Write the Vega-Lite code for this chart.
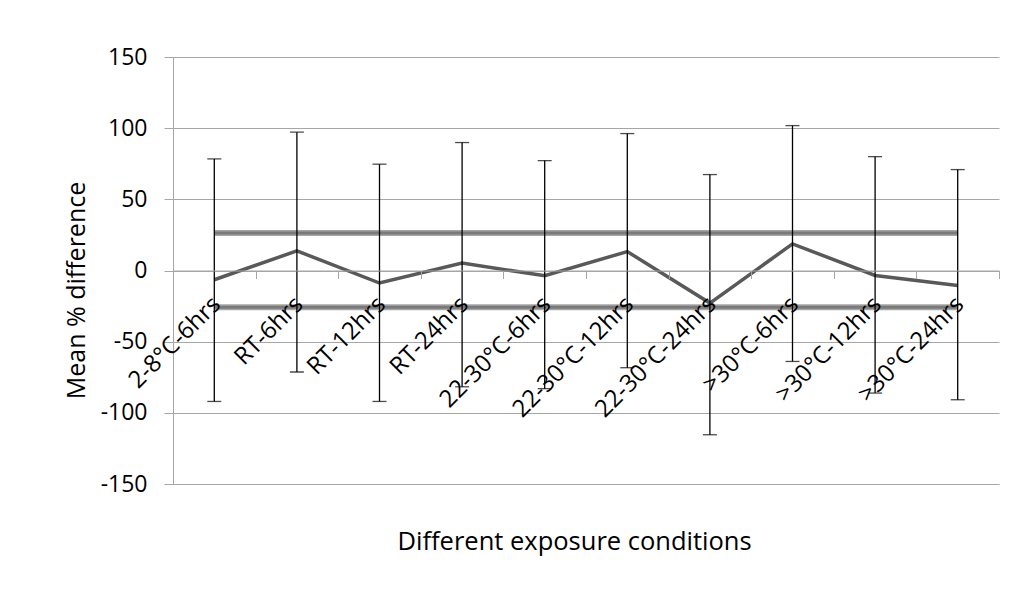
{
  "$schema": "https://vega.github.io/schema/vega-lite/v6.json",
  "width": 826,
  "height": 427,
  "autosize": {"type": "none"},
  "padding": {"left": 173, "top": 57, "right": 14, "bottom": 123},
  "background": "white",
  "config": {"view": {"stroke": null}, "font": "Open Sans"},
  "data": {
    "values": [
      {"condition": "2-8°C-6hrs", "mean": -6.5, "lo": -92.0, "hi": 78.4, "upper": 26.4, "lower": -25.8},
      {"condition": "RT-6hrs", "mean": 13.8, "lo": -71.3, "hi": 97.2, "upper": 26.4, "lower": -25.8},
      {"condition": "RT-12hrs", "mean": -8.8, "lo": -92.0, "hi": 74.7, "upper": 26.4, "lower": -25.8},
      {"condition": "RT-24hrs", "mean": 5.2, "lo": -81.7, "hi": 89.9, "upper": 26.4, "lower": -25.8},
      {"condition": "22-30°C-6hrs", "mean": -3.7, "lo": -83.0, "hi": 77.2, "upper": 26.4, "lower": -25.8},
      {"condition": "22-30°C-12hrs", "mean": 13.3, "lo": -68.3, "hi": 96.2, "upper": 26.4, "lower": -25.8},
      {"condition": "22-30°C-24hrs", "mean": -22.9, "lo": -115.4, "hi": 67.4, "upper": 26.4, "lower": -25.8},
      {"condition": ">30°C-6hrs", "mean": 18.7, "lo": -63.9, "hi": 101.8, "upper": 26.4, "lower": -25.8},
      {"condition": ">30°C-12hrs", "mean": -3.5, "lo": -86.1, "hi": 80.0, "upper": 26.4, "lower": -25.8},
      {"condition": ">30°C-24hrs", "mean": -10.5, "lo": -90.8, "hi": 70.9, "upper": 26.4, "lower": -25.8}
    ]
  },
  "encoding": {
    "x": {
      "field": "condition",
      "type": "nominal",
      "sort": null,
      "scale": {"type": "band", "paddingInner": 0, "paddingOuter": 0},
      "axis": {
        "title": "Different exposure conditions",
        "offset": -213.5,
        "zindex": 1,
        "labelAngle": -45,
        "labelAlign": "right",
        "labelBaseline": "middle",
        "labelOverlap": false,
        "labelBound": false,
        "labelOffset": 2,
        "tickBand": "extent",
        "tickSize": 8,
        "tickColor": "#a6a6a6",
        "domainColor": "#a6a6a6",
        "labelPadding": 22,
        "labelFont": "Open Sans",
        "labelFontSize": 24,
        "labelColor": "#000000",
        "titleFont": "Open Sans",
        "titleFontSize": 25.5,
        "titleFontWeight": "normal",
        "titleColor": "#000000",
        "titleX": 224,
        "titleY": 279,
        "titleAlign": "left",
        "titleBaseline": "alphabetic",
        "grid": false
      }
    }
  },
  "layer": [
    {
      "mark": {"type": "line", "color": "#a6a6a6", "strokeWidth": 6},
      "encoding": {
        "y": {
          "field": "upper",
          "type": "quantitative",
          "title": "Mean % difference",
          "scale": {"domain": [-150, 150], "nice": false},
          "axis": {
            "values": [-150, -100, -50, 0, 50, 100, 150],
            "labelExpr": "toString(datum.value)",
            "title": "Mean % difference",
            "grid": true,
            "gridColor": "#a6a6a6",
            "domainColor": "#a6a6a6",
            "tickColor": "#a6a6a6",
            "tickSize": 9,
            "labelPadding": 17,
            "labelFont": "Open Sans",
            "labelFontSize": 23,
            "labelColor": "#000000",
            "titleFont": "Open Sans",
            "titleFontSize": 25,
            "titleFontWeight": "normal",
            "titleColor": "#000000",
            "titleAngle": -90,
            "titleX": -97,
            "titleY": 233,
            "titleAlign": "center",
            "titleBaseline": "middle"
          }
        }
      }
    },
    {
      "mark": {"type": "line", "color": "#7a7a7a", "strokeWidth": 3},
      "encoding": {"y": {"field": "upper", "type": "quantitative", "title": "Mean % difference"}}
    },
    {
      "mark": {"type": "line", "color": "#a6a6a6", "strokeWidth": 6},
      "encoding": {"y": {"field": "lower", "type": "quantitative", "title": "Mean % difference"}}
    },
    {
      "mark": {"type": "line", "color": "#7a7a7a", "strokeWidth": 3},
      "encoding": {"y": {"field": "lower", "type": "quantitative", "title": "Mean % difference"}}
    },
    {
      "mark": {"type": "line", "color": "#595959", "strokeWidth": 3.5},
      "encoding": {"y": {"field": "mean", "type": "quantitative", "title": "Mean % difference"}}
    },
    {
      "mark": {"type": "rule", "color": "#000000", "strokeWidth": 1.3},
      "encoding": {
        "y": {"field": "lo", "type": "quantitative", "title": "Mean % difference"},
        "y2": {"field": "hi"}
      }
    },
    {
      "mark": {"type": "tick", "color": "#000000", "size": 14, "thickness": 1.3},
      "encoding": {"y": {"field": "lo", "type": "quantitative", "title": "Mean % difference"}}
    },
    {
      "mark": {"type": "tick", "color": "#000000", "size": 14, "thickness": 1.3},
      "encoding": {"y": {"field": "hi", "type": "quantitative", "title": "Mean % difference"}}
    }
  ]
}
